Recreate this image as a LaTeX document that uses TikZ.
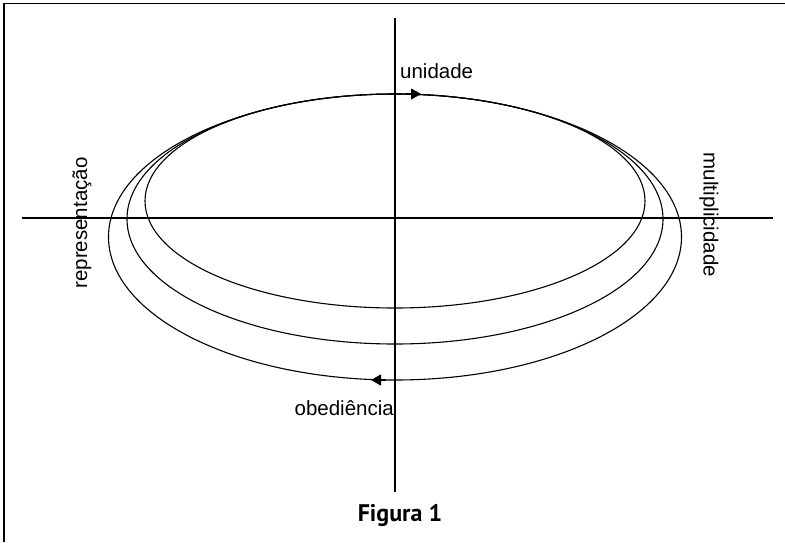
\documentclass[tikz,border=0pt]{standalone}
\usepackage{fontspec}
\setmainfont{Liberation Sans}
\newfontfamily\capfont{PT Sans}
\usetikzlibrary{arrows.meta}
\begin{document}
\begin{tikzpicture}[x=1pt,y=-1pt,
  curve/.style={line width=1.1pt},
  axisline/.style={line width=1.4pt},
  lbl/.style={font=\fontsize{20.5}{22}\selectfont, inner sep=0pt},
  tip/.style={-{Triangle[length=10pt,width=11pt]}, line width=1.1pt}]
\useasboundingbox (0,0) rectangle (785,542);
% frame
\draw[line width=1.5pt] (4,542) -- (4,3.5) -- (785,3.5);
% axes
\coordinate (hl) at (22,218);
\coordinate (hr) at (773,218);
\coordinate (vt) at (395,18);
\coordinate (vb) at (395,492);
\draw[axisline] (hl) -- (hr);
\draw[axisline] (vt) -- (vb);
% ellipses
\draw[curve] (395,201) ellipse [x radius=250, y radius=107];
\draw[curve] (395,219) ellipse [x radius=268, y radius=125];
\draw[curve] (395,237) ellipse [x radius=286.5, y radius=143];
% arrowheads
\coordinate (ta) at (405,94);
\coordinate (tb) at (421,94);
\coordinate (ba) at (386,380);
\coordinate (bb) at (371,380);
\draw[tip] (ta) -- (tb);
\draw[tip] (ba) -- (bb);
% labels
\node[lbl, anchor=base west] (uni) at (400,78) {unidade};
\node[lbl, anchor=base east] (obe) at (394,415) {obediência};
\node[lbl, rotate=90] (rep) at (82,223) {representação};
\node[lbl, rotate=-90] (mul) at (709,215) {multiplicidade};
\node[font=\capfont\bfseries\fontsize{24}{26}\selectfont, inner sep=0pt, anchor=base] (fig) at (400,521) {Figura 1};
\end{tikzpicture}
\end{document}
